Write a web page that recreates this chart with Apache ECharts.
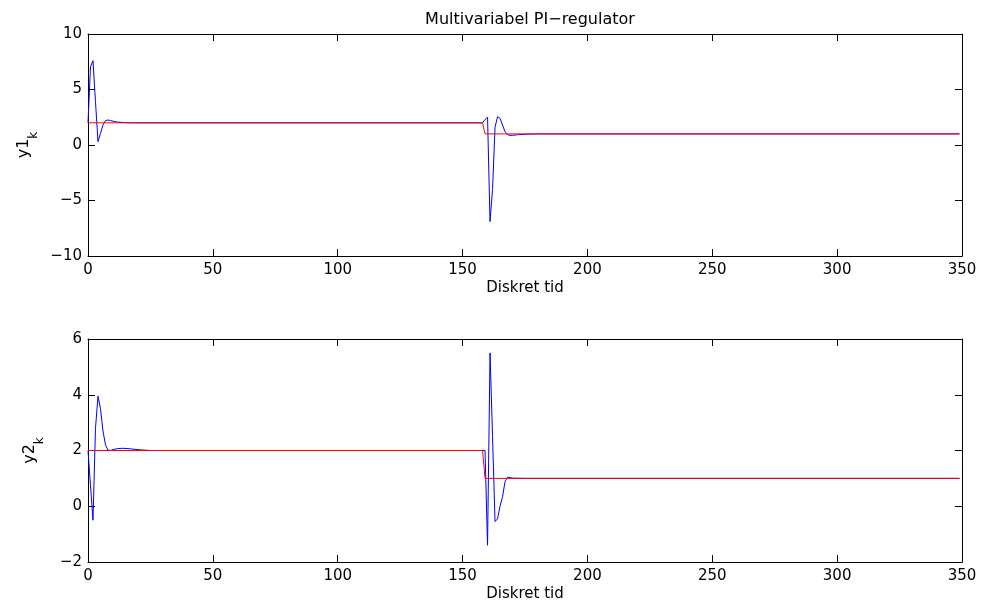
<!DOCTYPE html>
<html>
<head>
<meta charset="utf-8">
<script src="https://cdn.jsdelivr.net/npm/echarts@6/dist/echarts.min.js"></script>
<style>html,body{margin:0;padding:0;background:#fff}#c{width:984px;height:603px}</style>
</head>
<body>
<div id="c"></div>
<script>
// ---- data ----
var titleText = 'Multivariabel PI\u2212regulator';
var xLabel = 'Diskret tid';
var xTicks = [0, 50, 100, 150, 200, 250, 300, 350];
var y1Ticks = [-10, -5, 0, 5, 10];
var y2Ticks = [-2, 0, 2, 4, 6];

var y1K   = [0, 1, 2, 3, 4, 5, 6, 7, 8, 9, 10, 11, 12, 14, 16, 20, 158, 159, 160, 161, 162, 163, 164, 165, 166, 167, 168, 169, 170, 172, 175, 180, 349];
var y1Val = [2, 7.05, 7.6, 3.9, 0.3, 1.05, 1.8, 2.2, 2.25, 2.2, 2.15, 2.1, 2.06, 2.03, 2.01, 2.0, 2.0, 2.3, 2.5, -6.9, -4.0, 1.6, 2.55, 2.4, 1.8, 1.2, 0.93, 0.87, 0.87, 0.92, 0.97, 1.0, 1.0];

var y2K   = [0, 1, 2, 3, 4, 5, 6, 7, 8, 9, 10, 12, 14, 17, 20, 25, 158, 159, 160, 161, 162, 163, 164, 165, 166, 167, 168, 169, 170, 175, 349];
var y2Val = [2, 0.75, -0.5, 2.8, 3.95, 3.5, 2.7, 2.2, 2.02, 2.0, 2.03, 2.07, 2.08, 2.06, 2.03, 2.0, 2.0, 2.0, -1.4, 5.5, 2.5, -0.55, -0.45, 0.0, 0.34, 0.88, 1.04, 1.03, 1.01, 1.0, 1.0];

var refK   = [0, 158, 159, 349];
var ref1   = [2, 2, 1, 1];
var ref2   = [2, 2, 1, 1];

function pairs(k, v) { return k.map(function (x, i) { return [x, v[i]]; }); }

var FONT = 'DejaVu Sans';
function fmt(v) { return String(v).replace('-', '\u2212'); }

function xAxes(gi) {
  var base = {
    gridIndex: gi, type: 'value', min: xTicks[0], max: xTicks[xTicks.length - 1],
    interval: xTicks[1] - xTicks[0],
    axisLine: { show: true, onZero: false, lineStyle: { color: '#000', width: 1 } },
    axisTick: { show: true, inside: true, length: 7, lineStyle: { color: '#000' } },
    splitLine: { show: false }
  };
  return [
    Object.assign({}, base, {
      position: 'bottom',
      axisLabel: { show: true, margin: 7, fontFamily: FONT, fontSize: 15, color: '#000', formatter: fmt },
      name: xLabel, nameLocation: 'middle', nameGap: 25,
      nameTextStyle: { fontFamily: FONT, fontSize: 15, color: '#000' }
    }),
    Object.assign({}, base, { position: 'top', axisLabel: { show: false } })
  ];
}
function yAxes(gi, ticks, sub) {
  var base = {
    gridIndex: gi, type: 'value', min: ticks[0], max: ticks[ticks.length - 1],
    interval: ticks[1] - ticks[0],
    axisLine: { show: true, onZero: false, lineStyle: { color: '#000', width: 1 } },
    axisTick: { show: true, inside: true, length: 7, lineStyle: { color: '#000' } },
    splitLine: { show: false }
  };
  return [
    Object.assign({}, base, {
      position: 'left',
      axisLabel: { show: true, margin: 6, fontFamily: FONT, fontSize: 15, color: '#000', formatter: fmt },
      name: '{a|' + sub + '}{b|k}', nameLocation: 'middle', nameGap: 42,
      nameTextStyle: {
        fontFamily: FONT, fontSize: 15, color: '#000',
        rich: {
          a: { fontFamily: FONT, fontSize: 16, color: '#000', lineHeight: 18, verticalAlign: 'top' },
          b: { fontFamily: FONT, fontSize: 12, color: '#000', lineHeight: 24, verticalAlign: 'bottom' }
        }
      }
    }),
    Object.assign({}, base, { position: 'right', axisLabel: { show: false } })
  ];
}

var chart = echarts.init(document.getElementById('c'), null, { renderer: 'canvas' });
chart.setOption({
  animation: false,
  backgroundColor: '#fff',
  title: {
    text: titleText, left: 525, top: 7, textAlign: 'center',
    textStyle: { fontFamily: FONT, fontSize: 16, fontWeight: 'normal', color: '#000' }
  },
  grid: [
    { left: 88, top: 34, width: 874, height: 222 },
    { left: 88, top: 339, width: 874, height: 223 }
  ],
  xAxis: xAxes(0).concat(xAxes(1)),
  yAxis: yAxes(0, y1Ticks, 'y1').concat(yAxes(1, y2Ticks, 'y2')),
  series: [
    { type: 'line', xAxisIndex: 0, yAxisIndex: 0, data: pairs(y1K, y1Val), symbol: 'none', lineStyle: { color: '#0000ff', width: 1 } },
    { type: 'line', xAxisIndex: 0, yAxisIndex: 0, data: pairs(refK, ref1), symbol: 'none', lineStyle: { color: '#ff0000', width: 1 } },
    { type: 'line', xAxisIndex: 2, yAxisIndex: 2, data: pairs(y2K, y2Val), symbol: 'none', lineStyle: { color: '#0000ff', width: 1 } },
    { type: 'line', xAxisIndex: 2, yAxisIndex: 2, data: pairs(refK, ref2), symbol: 'none', lineStyle: { color: '#ff0000', width: 1 } }
  ]
});
</script>
</body>
</html>
